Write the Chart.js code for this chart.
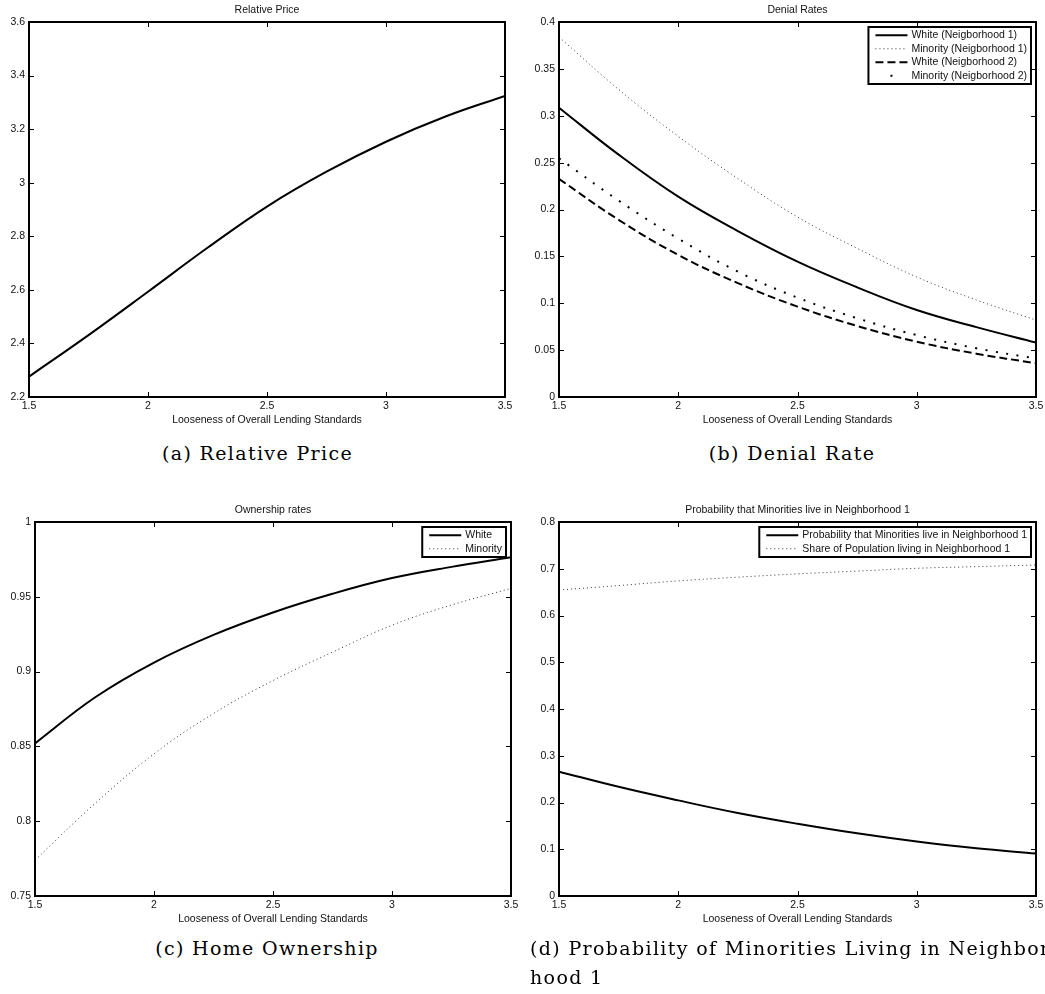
<!DOCTYPE html>
<html>
<head>
<meta charset="utf-8">
<script src="https://cdn.jsdelivr.net/npm/chart.js@4.4.1/dist/chart.umd.min.js"></script>
<style>
  html, body { margin: 0; padding: 0; background: #fff; width: 1045px; height: 994px; overflow: hidden; }
  .panel { position: absolute; }
  .panel canvas { display: block; }
  .cap {
    position: absolute;
    font-family: "DejaVu Serif", "Liberation Serif", serif;
    font-size: 19px;
    letter-spacing: 1.35px;
    line-height: 29px;
    white-space: nowrap;
    color: #000;
  }
</style>
</head>
<body>
<div class="panel" style="left:0;top:0"><canvas id="chartPrice" width="520" height="430"></canvas></div>
<div class="panel" style="left:520px;top:0"><canvas id="chartDenial" width="531" height="430"></canvas></div>
<div class="panel" style="left:0;top:500px"><canvas id="chartOwnership" width="526" height="429"></canvas></div>
<div class="panel" style="left:520px;top:500px"><canvas id="chartProbability" width="531" height="429"></canvas></div>

<div class="cap" style="left:0;top:439px;width:515px;text-align:center">(a) Relative Price</div>
<div class="cap" style="left:530px;top:439px;width:524px;text-align:center">(b) Denial Rate</div>
<div class="cap" style="left:0;top:934px;width:534px;text-align:center">(c) Home Ownership</div>
<div class="cap" style="left:530px;top:934px">(d) Probability of Minorities Living in Neighbor-<br>hood 1</div>

<script>
// Looseness of overall lending standards (shared x values)
const looseness = [1.5, 1.75, 2.0, 2.25, 2.5, 2.75, 3.0, 3.25, 3.5];

// (a) relative price
const relativePrice = [2.276, 2.431, 2.593, 2.757, 2.911, 3.041, 3.153, 3.247, 3.324];

// (b) denial rates
const denialWhiteN1    = [0.3086, 0.2585, 0.2137, 0.177, 0.1444, 0.117, 0.0928, 0.0745, 0.058];
const denialMinorityN1 = [0.384, 0.328, 0.278, 0.233, 0.192, 0.1586, 0.128, 0.1035, 0.082];
const denialWhiteN2    = [0.2326, 0.189, 0.1515, 0.1215, 0.0964, 0.0758, 0.059, 0.0462, 0.036];
const denialMinorityN2 = [0.2546, 0.2095, 0.169, 0.1337, 0.106, 0.084, 0.066, 0.052, 0.041];

// (c) ownership rates
const ownWhite    = [0.852, 0.8825, 0.906, 0.9245, 0.9395, 0.952, 0.9625, 0.970, 0.9764];
const ownMinority = [0.774, 0.8115, 0.845, 0.872, 0.894, 0.913, 0.931, 0.9445, 0.9556];

// (d) neighborhood 1
const probMinorityN1 = [0.266, 0.2335, 0.2045, 0.1775, 0.1545, 0.134, 0.1165, 0.102, 0.091];
const shareN1        = [0.6546, 0.664, 0.674, 0.682, 0.689, 0.695, 0.701, 0.7045, 0.708];

// tick values
const xTicks           = [1.5, 2, 2.5, 3, 3.5];
const priceTicks       = [2.2, 2.4, 2.6, 2.8, 3, 3.2, 3.4, 3.6];
const denialTicks      = [0, 0.05, 0.1, 0.15, 0.2, 0.25, 0.3, 0.35, 0.4];
const ownershipTicks   = [0.75, 0.8, 0.85, 0.9, 0.95, 1];
const probabilityTicks = [0, 0.1, 0.2, 0.3, 0.4, 0.5, 0.6, 0.7, 0.8];

const xTitle = 'Looseness of Overall Lending Standards';

Chart.defaults.font.family = '"Liberation Sans", Arial, Helvetica, sans-serif';
Chart.defaults.font.size = 10.5;
Chart.defaults.color = '#111';

function points(values) {
  return looseness.map((x, i) => ({ x: x, y: values[i] }));
}

// line styles
const styleSolid  = { borderColor: '#000', borderWidth: 2, borderDash: [] };
const styleDotted = { borderColor: '#333', borderWidth: 1, borderDash: [1, 3] };
const styleDashed = { borderColor: '#000', borderWidth: 2, borderDash: [8, 4] };
const styleSparse = { borderColor: '#000', borderWidth: 2, borderDash: [2, 8.5], legendSample: 'dot' };

// box frame with inward tick marks on all four sides
const frameTicks = {
  id: 'frameTicks',
  afterDatasetsDraw(chart) {
    const { ctx, chartArea: a, scales: { x, y } } = chart;
    const len = 5;
    ctx.save();
    ctx.strokeStyle = '#000';
    ctx.lineWidth = 1;
    ctx.beginPath();
    x.ticks.forEach(t => {
      const px = Math.round(x.getPixelForValue(t.value)) + 0.5;
      ctx.moveTo(px, a.bottom); ctx.lineTo(px, a.bottom - len);
      ctx.moveTo(px, a.top);    ctx.lineTo(px, a.top + len);
    });
    y.ticks.forEach(t => {
      const py = Math.round(y.getPixelForValue(t.value)) + 0.5;
      ctx.moveTo(a.left, py);  ctx.lineTo(a.left + len, py);
      ctx.moveTo(a.right, py); ctx.lineTo(a.right - len, py);
    });
    ctx.stroke();
    ctx.lineWidth = 2;
    ctx.strokeRect(a.left, a.top, a.right - a.left, a.bottom - a.top);
    ctx.restore();
  }
};

// boxed legend in the upper right corner of the plot area
const boxLegend = {
  id: 'boxLegend',
  afterDraw(chart, args, opts) {
    if (!opts || !opts.show) return;
    const { ctx, chartArea: a } = chart;
    const items = chart.data.datasets;
    ctx.save();
    ctx.font = '10.5px "Liberation Sans", Arial, sans-serif';
    const textW = Math.max(...items.map(d => ctx.measureText(d.label).width));
    const rowH = 13.5, padY = 1.5, sampleW = 32, padL = 7, gap = 4, padR = 4;
    const w = padL + sampleW + gap + textW + padR;
    const h = padY * 2 + rowH * items.length;
    const right = a.right - 5, top = a.top + 5, left = right - w;
    ctx.fillStyle = '#fff';
    ctx.fillRect(left, top, w, h);
    ctx.strokeStyle = '#000';
    ctx.lineWidth = 2;
    ctx.strokeRect(left, top, w, h);
    items.forEach((d, i) => {
      const cy = top + padY + rowH * (i + 0.5);
      const x0 = left + padL;
      if (d.legendSample === 'dot') {
        ctx.fillStyle = d.borderColor;
        ctx.fillRect(x0 + sampleW / 2 - 1, cy - 1, 2, 2);
      } else {
        ctx.strokeStyle = d.borderColor;
        ctx.lineWidth = d.borderWidth;
        ctx.setLineDash(d.borderDash || []);
        ctx.beginPath();
        ctx.moveTo(x0, cy);
        ctx.lineTo(x0 + sampleW, cy);
        ctx.stroke();
        ctx.setLineDash([]);
      }
      ctx.fillStyle = '#111';
      ctx.textAlign = 'left';
      ctx.textBaseline = 'middle';
      ctx.fillText(d.label, x0 + sampleW + gap, cy);
    });
    ctx.restore();
  }
};

function makeChart(id, title, yTicks, yWidth, datasets, showLegend) {
  return new Chart(document.getElementById(id), {
    type: 'line',
    data: { datasets: datasets },
    options: {
      responsive: false,
      animation: false,
      events: [],
      layout: { padding: { left: 0, right: 15, top: 0, bottom: 0 } },
      elements: {
        point: { radius: 0 },
        line: { tension: 0.4, fill: false, borderCapStyle: 'butt' }
      },
      plugins: {
        legend: { display: false },
        tooltip: { enabled: false },
        title: {
          display: true, text: title, fullSize: false, color: '#111',
          font: { size: 10.5, weight: 'normal' },
          padding: { top: 3.7, bottom: 5.7 }
        },
        boxLegend: { show: showLegend }
      },
      scales: {
        x: {
          type: 'linear', min: xTicks[0], max: xTicks[xTicks.length - 1],
          afterBuildTicks: s => { s.ticks = xTicks.map(v => ({ value: v })); },
          afterFit: s => { s.height = 33; },
          grid: { display: false, drawTicks: false }, border: { display: false },
          ticks: { padding: 3, autoSkip: false, maxRotation: 0, color: '#111', callback: v => String(v) },
          title: { display: true, text: xTitle, color: '#111', font: { size: 10.5 }, padding: { top: 0, bottom: 3.7 } }
        },
        y: {
          type: 'linear', min: yTicks[0], max: yTicks[yTicks.length - 1],
          afterBuildTicks: s => { s.ticks = yTicks.map(v => ({ value: v })); },
          afterFit: s => { s.width = yWidth; },
          grid: { display: false, drawTicks: false }, border: { display: false },
          ticks: { padding: 4, autoSkip: false, color: '#111', callback: v => String(v) }
        }
      }
    },
    plugins: [frameTicks, boxLegend]
  });
}

makeChart('chartPrice', 'Relative Price', priceTicks, 29, [
  Object.assign({ label: 'Relative Price', data: points(relativePrice) }, styleSolid)
], false);

makeChart('chartDenial', 'Denial Rates', denialTicks, 39, [
  Object.assign({ label: 'White (Neigborhood 1)',    data: points(denialWhiteN1) },    styleSolid),
  Object.assign({ label: 'Minority (Neigborhood 1)', data: points(denialMinorityN1) }, styleDotted),
  Object.assign({ label: 'White (Neigborhood 2)',    data: points(denialWhiteN2) },    styleDashed),
  Object.assign({ label: 'Minority (Neigborhood 2)', data: points(denialMinorityN2) }, styleSparse)
], true);

makeChart('chartOwnership', 'Ownership rates', ownershipTicks, 35, [
  Object.assign({ label: 'White',    data: points(ownWhite) },    styleSolid),
  Object.assign({ label: 'Minority', data: points(ownMinority) }, styleDotted)
], true);

makeChart('chartProbability', 'Probability that Minorities live in Neighborhood 1', probabilityTicks, 39, [
  Object.assign({ label: 'Probability that Minorities live in Neighborhood 1', data: points(probMinorityN1) }, styleSolid),
  Object.assign({ label: 'Share of Population living in Neighborhood 1',       data: points(shareN1) },        styleDotted)
], true);
</script>
</body>
</html>
